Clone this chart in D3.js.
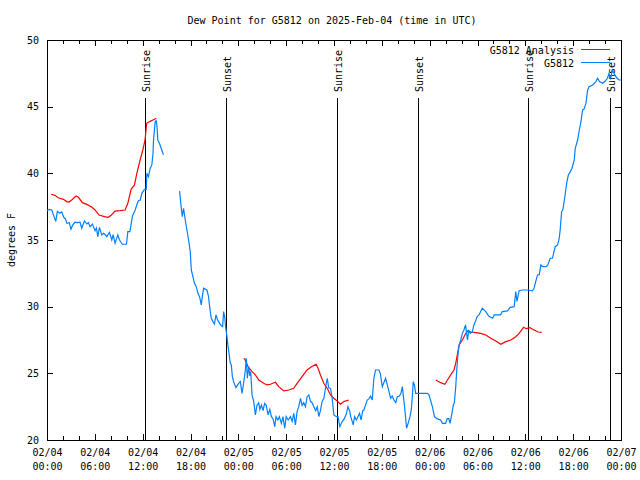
<!DOCTYPE html>
<html>
<head>
<meta charset="utf-8">
<script src="https://cdn.jsdelivr.net/npm/d3@7"></script>
<style>
  html, body { margin: 0; padding: 0; background: #fff; }
  svg { display: block; }
  text { font-family: "DejaVu Sans Mono", "Liberation Mono", monospace; font-size: 10px; fill: #000; }
</style>
</head>
<body>
<svg id="chart" width="640" height="480"></svg>
<script>
// ---- Data (hours since 2025-02-04 00:00 UTC) ----
const titleText = "Dew Point for G5812 on 2025-Feb-04 (time in UTC)";
const yLabel = "degrees F";
const seriesNames = ["G5812 Analysis", "G5812"];
const seriesColors = ["#ff0000", "#0080ff"];

const analysisHours = [0.5,1.0,1.4,2.05,2.5,2.76,3.1,3.64,3.94,4.44,4.98,5.6,6.03,6.53,7.2,7.7,8.0,8.54,9.17,9.8,10.14,10.55,10.97,11.27,11.68,12.02,12.3,12.5,12.94,13.48,13.7,
  19.0,
  24.67,24.8,25.22,25.72,26.14,26.56,27.18,27.6,28.02,28.65,29.07,29.7,30.33,30.95,31.37,32.0,32.62,33.17,33.76,34.0,34.3,34.72,35.15,35.56,35.98,36.4,36.82,37.23,37.86,
  43.0,
  48.76,49.38,49.9,50.23,50.64,51.05,51.27,51.5,51.7,52.1,52.53,52.8,53.2,53.78,54.4,55.04,55.67,56.3,56.92,57.55,58.18,58.8,59.22,59.78,60.1,60.57,61.1,61.6,62.04];
const analysisValues = [38.43,38.35,38.17,38.05,37.88,37.85,38.0,38.3,38.2,37.8,37.67,37.47,37.25,36.87,36.75,36.7,36.83,37.17,37.2,37.25,37.75,38.8,39.13,40.0,41.0,41.75,42.5,43.75,43.9,44.05,44.13,
  null,
  26.08,26.08,25.5,25.13,24.88,24.5,24.25,24.13,24.18,24.33,24.0,23.68,23.75,23.88,24.25,24.75,25.25,25.5,25.68,25.38,24.88,24.25,23.88,23.38,23.13,22.93,22.68,22.88,23.0,
  null,
  24.5,24.3,24.18,24.5,24.88,25.25,25.75,26.5,27.13,27.5,28.0,28.2,28.1,28.05,28.0,27.88,27.63,27.43,27.18,27.38,27.5,27.75,28.0,28.45,28.35,28.43,28.25,28.1,28.07];

const stationHours = [0.0,0.3,0.6,0.8,1.1,1.3,1.6,1.85,2.1,2.3,2.5,2.8,3.0,3.2,3.5,3.8,4.15,4.35,4.7,5.0,5.2,5.4,5.7,6.03,6.2,6.37,6.58,6.87,7.1,7.3,7.5,7.83,8.13,8.3,8.54,8.88,9.1,9.46,9.97,10.14,10.4,10.72,11.06,11.3,11.47,11.7,11.9,12.23,12.45,12.53,12.73,12.94,13.15,13.3,13.36,13.57,13.7,13.8,13.9,14.1,14.4,14.6,
  15.5,
  16.63,16.8,16.97,17.13,17.34,17.55,17.76,17.97,18.1,18.3,18.5,18.72,18.93,19.14,19.35,19.45,19.64,20.06,20.25,20.4,20.6,20.82,21.0,21.2,21.4,21.6,21.8,22.03,22.15,22.3,22.4,22.58,22.66,22.83,23.0,23.12,23.25,23.4,23.7,24.04,24.25,24.46,24.65,24.88,25.0,25.13,25.3,25.45,25.55,25.72,25.93,26.14,26.35,26.55,26.7,26.9,27.1,27.3,27.5,27.73,27.95,28.15,28.35,28.57,28.73,28.95,29.15,29.4,29.6,29.82,30.0,30.25,30.53,30.75,30.95,31.16,31.37,31.58,31.8,32.0,32.2,32.42,32.63,32.84,33.05,33.25,33.47,33.7,33.9,34.1,34.3,34.5,34.73,34.93,35.15,35.35,35.56,35.77,35.98,36.3,36.5,36.73,37.03,37.3,37.57,37.74,37.95,38.1,38.41,38.58,38.8,39.0,39.2,39.4,39.6,39.75,39.96,40.17,40.4,40.59,40.8,41.0,41.22,41.63,41.8,42.06,42.25,42.47,42.7,42.9,43.1,43.3,43.52,43.75,43.94,44.2,44.4,44.57,44.78,44.9,45.1,45.3,45.53,45.7,45.82,45.94,46.1,46.24,46.6,47.71,47.9,48.1,48.34,48.6,48.9,49.38,49.6,50.0,50.2,50.4,50.55,50.76,50.97,51.1,51.27,51.4,51.56,51.7,51.9,52.1,52.3,52.5,52.74,52.9,53.1,53.35,53.55,53.75,53.95,54.2,54.6,55.04,55.4,55.9,56.1,56.5,56.9,57.1,57.77,58.1,58.6,58.8,58.95,59.22,59.65,60.28,60.9,61.1,61.3,61.53,61.75,61.95,62.15,62.58,62.8,63.12,63.4,63.75,64.05,64.25,64.37,64.55,64.7,64.9,65.1,65.22,65.4,65.64,65.85,66.14,66.26,66.56,66.77,66.98,67.18,67.35,67.6,67.82,68.0,68.45,68.86,69.07,69.3,69.7,70.0,70.3,70.5,70.7,70.93,71.2,71.5,71.76,72.0];
const stationValues = [37.2,37.3,37.25,36.9,36.4,37.15,37.0,37.1,36.7,36.6,36.25,36.3,35.8,36.1,36.33,36.3,36.33,35.88,36.43,36.2,36.3,36.0,36.2,35.7,35.9,35.25,35.95,35.38,35.5,35.4,35.25,35.57,35.0,35.4,34.75,35.38,35.0,34.68,34.68,35.63,35.63,36.8,37.25,37.7,37.95,38.0,38.5,38.8,38.8,40.0,39.75,40.37,40.63,41.5,42.5,43.88,43.95,43.5,42.5,42.25,41.75,41.38,
  null,
  38.67,37.63,36.75,37.38,36.5,35.75,35.0,34.13,32.75,32.25,31.75,31.5,31.0,30.75,30.13,30.6,31.38,31.25,30.8,30.0,29.13,28.88,28.7,29.38,29.0,28.8,28.6,28.5,29.63,29.2,28.5,27.75,27.25,26.5,25.75,25.63,24.75,24.38,23.93,24.25,24.38,23.5,24.2,25.25,26.13,24.63,25.5,24.8,25.13,23.38,22.88,21.88,22.63,22.8,22.3,22.63,22.2,22.75,22.6,21.88,22.3,21.75,21.6,21.0,21.75,21.5,21.75,21.25,21.75,20.88,21.75,21.5,21.75,21.4,22.0,21.13,22.13,22.5,23.13,22.6,22.8,22.5,23.25,23.38,22.9,22.8,22.5,22.2,22.5,21.75,22.2,22.88,23.13,23.88,24.63,23.9,23.88,23.13,21.88,21.75,21.75,21.0,21.38,21.6,22.0,22.5,22.2,21.75,21.13,21.75,21.5,21.75,22.0,21.5,22.2,22.25,22.63,23.0,23.1,23.3,23.0,24.63,25.25,25.25,25.0,24.0,24.3,24.63,24.1,23.63,23.13,23.3,23.0,22.8,23.25,23.3,23.5,24.0,22.88,22.2,20.88,21.25,21.75,22.3,23.25,24.38,24.1,23.5,23.5,23.5,23.4,23.0,22.5,21.75,21.6,21.5,21.25,21.25,21.6,21.6,21.25,21.88,22.63,22.8,24.0,25.25,26.5,27.13,27.5,28.0,28.25,28.63,27.5,28.2,28.0,28.1,28.63,28.9,29.25,29.4,29.88,29.63,29.3,29.13,29.38,29.38,29.38,29.63,29.68,29.95,30.0,31.13,30.4,31.2,31.25,31.25,31.18,31.4,31.88,32.38,32.4,33.13,33.0,33.0,33.1,33.63,33.63,34.5,34.63,35.13,35.75,37.13,37.25,38.0,38.88,39.38,39.88,40.13,40.38,41.0,41.88,42.5,43.25,43.88,44.75,44.8,45.25,46.25,46.5,46.63,46.88,47.13,46.88,46.75,46.9,47.13,47.5,47.13,47.75,47.4,47.13,47.0,47.0];

const eventLabels = ["Sunrise","Sunset","Sunrise","Sunset","Sunrise","Sunset"];
const eventHours = [12.33, 22.48, 36.34, 46.58, 60.37, 70.66];

const yTicks = [20,25,30,35,40,45,50];
const xMajorTicks = [0,6,12,18,24,30,36,42,48,54,60,66,72];
const xMinorTicks = d3.range(0, 73, 2);

// ---- Layout ----
const L = 47, R = 621, T = 40, B = 440;
const svg = d3.select("#chart");
svg.append("rect").attr("width", 640).attr("height", 480).attr("fill", "#fff");

const x = d3.scaleLinear().domain([0, 72]).range([L, R]);
const y = d3.scaleLinear().domain([20, 50]).range([B, T]);

function fmtX(h) {
  const day = 4 + Math.floor(h / 24);
  const hh = h % 24;
  return ["02/" + String(day).padStart(2, "0"), String(hh).padStart(2, "0") + ":00"];
}

// Minor ticks (bottom & top)
svg.append("g").attr("transform", `translate(0,${B})`)
  .call(d3.axisBottom(x).tickValues(xMinorTicks).tickSizeInner(-4).tickSizeOuter(0).tickFormat(""))
  .call(g => g.select(".domain").remove());
svg.append("g").attr("transform", `translate(0,${T})`)
  .call(d3.axisTop(x).tickValues(xMinorTicks).tickSizeInner(-4).tickSizeOuter(0).tickFormat(""))
  .call(g => g.select(".domain").remove());

// Major x axis with labels
const xAxisG = svg.append("g").attr("transform", `translate(0,${B})`)
  .call(d3.axisBottom(x).tickValues(xMajorTicks).tickSizeInner(-6).tickSizeOuter(0).tickPadding(13).tickFormat(h => fmtX(h)[0]));
xAxisG.select(".domain").remove();
xAxisG.selectAll(".tick text").each(function(h) {
  const t = d3.select(this);
  const parts = fmtX(h);
  t.text(null).attr("dy", null).attr("y", 16);
  t.append("tspan").attr("x", 0).attr("y", 16).text(parts[0]);
  t.append("tspan").attr("x", 0).attr("y", 30).text(parts[1]);
});
const xTopG = svg.append("g").attr("transform", `translate(0,${T})`)
  .call(d3.axisTop(x).tickValues(xMajorTicks).tickSizeInner(-6).tickSizeOuter(0).tickFormat(""));
xTopG.select(".domain").remove();

// Y axes
const yAxisG = svg.append("g").attr("transform", `translate(${L},0)`)
  .call(d3.axisLeft(y).tickValues(yTicks).tickSizeInner(-6).tickSizeOuter(0).tickPadding(8).tickFormat(d3.format("d")));
yAxisG.select(".domain").remove();
const yRightG = svg.append("g").attr("transform", `translate(${R},0)`)
  .call(d3.axisRight(y).tickValues(yTicks).tickSizeInner(-6).tickSizeOuter(0).tickFormat(""));
yRightG.select(".domain").remove();

svg.selectAll(".tick line").attr("stroke", "#000").attr("shape-rendering", "crispEdges");
svg.selectAll(".tick text").attr("font-family", "DejaVu Sans Mono").attr("font-size", 10).attr("fill", "#000");

// Frame
svg.append("rect").attr("x", L).attr("y", T).attr("width", R - L).attr("height", B - T)
  .attr("fill", "none").attr("stroke", "#000").attr("shape-rendering", "crispEdges");

// Sunrise / Sunset lines and labels
eventHours.forEach((h, i) => {
  const xx = Math.round(x(h)) + 0.5;
  svg.append("line").attr("x1", xx).attr("x2", xx).attr("y1", 98).attr("y2", B)
    .attr("stroke", "#000").attr("stroke-width", 1).attr("shape-rendering", "crispEdges");
  svg.append("text").attr("transform", `translate(${xx + 4},92) rotate(-90)`)
    .attr("text-anchor", "start").text(eventLabels[i]);
});

// Series
const line = d3.line()
  .defined(d => d[1] != null)
  .x(d => x(d[0]))
  .y(d => y(d[1]));

const analysisData = analysisHours.map((h, i) => [h, analysisValues[i]]);
const stationData = stationHours.map((h, i) => [h, stationValues[i]]);

svg.append("path").datum(analysisData).attr("d", line)
  .attr("fill", "none").attr("stroke", seriesColors[0]).attr("stroke-width", 1.2);
svg.append("path").datum(stationData).attr("d", line)
  .attr("fill", "none").attr("stroke", seriesColors[1]).attr("stroke-width", 1.2);

// Legend
seriesNames.forEach((name, i) => {
  const ly = 49.5 + i * 13;
  svg.append("text").attr("x", 574).attr("y", ly + 4).attr("text-anchor", "end").text(name);
  svg.append("line").attr("x1", 581).attr("x2", 610).attr("y1", ly).attr("y2", ly)
    .attr("stroke", seriesColors[i]).attr("stroke-width", 1);
});

// Title and y label
svg.append("text").attr("x", 332).attr("y", 24).attr("text-anchor", "middle").text(titleText);
svg.append("text").attr("transform", "translate(15,240) rotate(-90)").attr("text-anchor", "middle").text(yLabel);
</script>
</body>
</html>
